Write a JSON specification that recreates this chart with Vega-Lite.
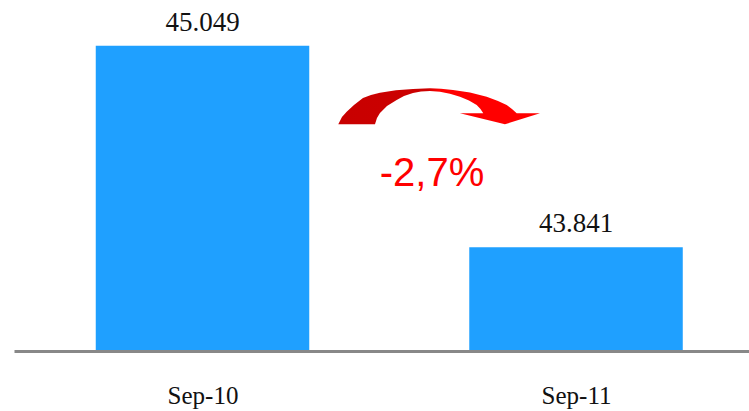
{
  "$schema": "https://vega.github.io/schema/vega-lite/v6.json",
  "autosize": "none",
  "width": 735,
  "height": 351,
  "padding": {"left": 14, "top": 0, "right": 0, "bottom": 60},
  "config": {
    "view": {"stroke": null},
    "locale": {"number": {"decimal": ",", "thousands": ".", "grouping": [3], "currency": ["", "€"]}}
  },
  "data": {"values": [
    {"month": "2010-09-01", "value": 45049},
    {"month": "2011-09-01", "value": 43841}
  ]},
  "layer": [
    {
      "mark": {"type": "bar", "size": 213.5, "color": "#1FA0FF"},
      "encoding": {
        "x": {
          "field": "month", "type": "temporal",
          "scale": {"type": "utc", "padding": 0, "nice": false, "domain": [
            {"year": 2010, "month": 2, "date": 28, "hours": 19, "utc": true},
            {"year": 2012, "month": 2, "date": 17, "hours": 1, "utc": true}
          ]},
          "axis": {
            "values": [
              {"year": 2010, "month": 9, "date": 1, "utc": true},
              {"year": 2011, "month": 9, "date": 1, "utc": true}
            ],
            "format": "%b-%y",
            "title": null,
            "grid": false,
            "ticks": false,
            "tickSize": 0,
            "domainColor": "#888888",
            "domainWidth": 3,
            "labelFont": "Liberation Serif",
            "labelFontSize": 25,
            "labelColor": "#111111",
            "labelBaseline": "alphabetic",
            "labelPadding": 52,
            "labelFlush": false,
            "labelOverlap": false,
            "zindex": 1
          }
        },
        "y": {
          "field": "value", "type": "quantitative",
          "scale": {"domain": [43219.6, 45322.8], "zero": false, "nice": false, "padding": 0},
          "axis": null
        },
        "y2": {"datum": 43219.6}
      }
    },
    {
      "mark": {"type": "text", "font": "Liberation Serif", "fontSize": 27, "color": "#111111", "baseline": "alphabetic", "dy": -15},
      "encoding": {
        "x": {"field": "month", "type": "temporal"},
        "y": {"field": "value", "type": "quantitative"},
        "text": {"field": "value", "type": "quantitative", "format": ",d"}
      }
    },
    {
      "data": {"values": [{"shape": "arrow"}]},
      "mark": {
        "type": "point",
        "filled": true,
        "opacity": 1,
        "strokeWidth": 0,
        "size": 40000,
        "shape": "M -1.007 0.183 L -0.97 0.11 L -0.923 0.057 L -0.85 -0.01 L -0.76 -0.08 L -0.68 -0.11 L -0.59 -0.133 L -0.43 -0.158 L -0.26 -0.17 L -0.09 -0.177 L 0.02 -0.173 L 0.14 -0.16 L 0.31 -0.135 L 0.477 -0.093 L 0.59 -0.05 L 0.677 -0.01 L 0.73 0.03 L 0.777 0.073 L 1.01 0.073 L 0.66 0.183 L 0.21 0.073 L 0.443 0.073 L 0.415 0.03 L 0.377 -0.01 L 0.3 -0.055 L 0.21 -0.093 L 0.11 -0.123 L 0.01 -0.143 L -0.09 -0.15 L -0.18 -0.144 L -0.26 -0.13 L -0.35 -0.1 L -0.423 -0.06 L -0.52 0 L -0.59 0.07 L -0.62 0.12 L -0.64 0.183 Z",
        "fill": {
          "gradient": "linear", "x1": 0, "y1": 0, "x2": 1, "y2": 0,
          "stops": [
            {"offset": 0, "color": "#C80000"},
            {"offset": 0.44, "color": "#CC0000"},
            {"offset": 0.5, "color": "#FF0000"},
            {"offset": 1, "color": "#FF0000"}
          ]
        }
      },
      "encoding": {
        "x": {"datum": {"year": 2011, "month": 4, "date": 20, "hours": 2, "utc": true}, "type": "temporal"},
        "y": {"datum": 44687.6, "type": "quantitative"}
      }
    },
    {
      "data": {"values": [{"change": "-2,7%"}]},
      "mark": {"type": "text", "font": "Liberation Sans", "fontSize": 40, "color": "#FF0000", "baseline": "middle", "align": "center"},
      "encoding": {
        "x": {"datum": {"year": 2011, "month": 4, "date": 13, "hours": 7, "utc": true}, "type": "temporal"},
        "y": {"datum": 44280, "type": "quantitative"},
        "text": {"field": "change", "type": "nominal"}
      }
    }
  ]
}
